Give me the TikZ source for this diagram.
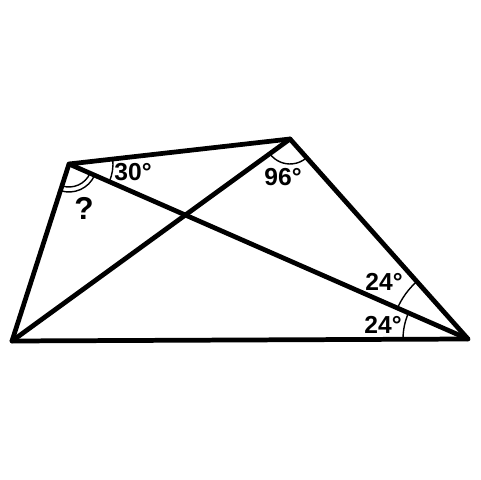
\documentclass[tikz,border=0pt]{standalone}
\usepackage{fontspec}
\setmainfont{Liberation Sans}
\usetikzlibrary{angles}

\begin{document}
\begin{tikzpicture}
    [
      x = 0.02cm, y = 0.02cm,
      side/.style = {line width = 2.7pt, line join = round, line cap = round},
      mark arc/.style = {draw, line width = 0.8pt},
      label/.style = {font = \fontsize{14}{16}\selectfont\bfseries, inner sep = 0pt}
    ]
    \useasboundingbox (0,0) rectangle (480,480);
    \coordinate (A) at (69,316);
    \coordinate (B) at (290,341);
    \coordinate (C) at (468,141);
    \coordinate (D) at (12,139);
    \draw [side] (A) -- (B) -- (C) -- (D) -- cycle;
    \draw [side] (A) -- (C);
    \draw [side] (D) -- (B);
    \pic [mark arc, angle radius = 0.46cm] {angle = D--A--C};
    \pic [mark arc, angle radius = 0.56cm] {angle = D--A--C};
    \pic [mark arc, angle radius = 0.88cm] {angle = C--A--B};
    \pic [mark arc, angle radius = 0.5cm] {angle = D--B--C};
    \pic [mark arc, angle radius = 1.54cm] {angle = B--C--A};
    \pic [mark arc, angle radius = 1.3cm] {angle = A--C--D};
    \node [label, font = \fontsize{18}{20}\selectfont\bfseries] (ask) at (84,272) {?};
    \node [label] (thirty) at (133,308) {30°};
    \node [label] (ninetysix) at (283,303) {96°};
    \node [label] (upper) at (384,198) {24°};
    \node [label] (lower) at (383,155) {24°};
\end{tikzpicture}
\end{document}
